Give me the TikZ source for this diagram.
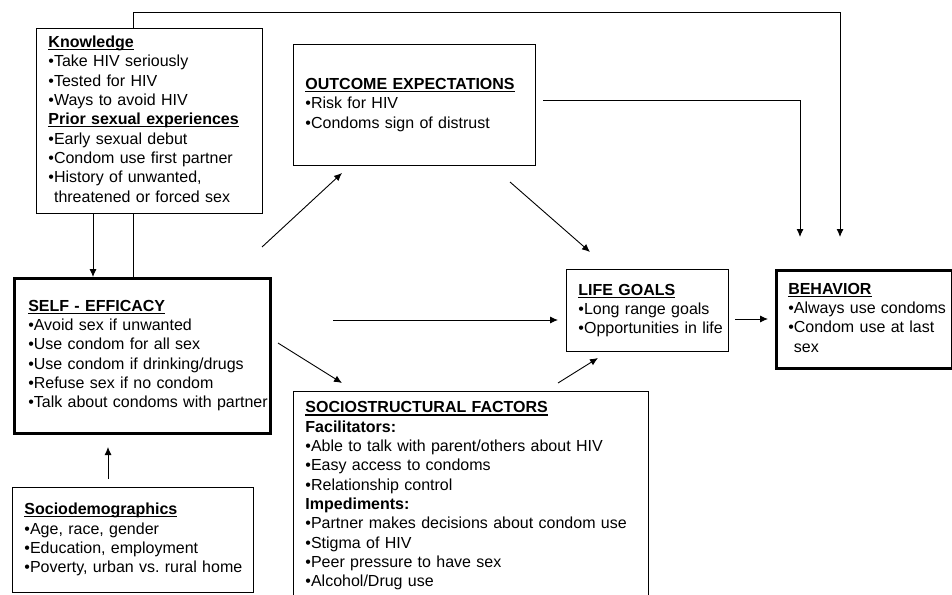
\documentclass[tikz,border=0pt]{standalone}
\usepackage{fontspec}
\setmainfont{Liberation Sans}
\usetikzlibrary{arrows.meta,backgrounds}
\frenchspacing
\newcommand{\hdr}[1]{\textbf{\setbox0\hbox{#1}\rlap{\rule[-2.6pt]{\wd0}{1.1pt}}\box0}}
\newcommand{\boxlines}[1]{\begin{tabular}{@{}l@{}}#1\end{tabular}}

\begin{document}
\begin{tikzpicture}[x=1pt, y=-1pt, >={Latex[length=8pt,width=7pt]},
  B/.style={draw, fill=white, line width=0.9pt, anchor=north west, align=left,
            inner xsep=12pt, inner ysep=0pt, font=\fontsize{16}{19.3}\selectfont},
  BB/.style={B, line width=2.5pt, inner xsep=14pt},
  ln/.style={line width=0.9pt}]
\useasboundingbox (0,0) rectangle (952,594);
\node[B, text width=202pt, minimum height=185pt] (kn) at (36,28)
  {\boxlines{\hdr{Knowledge}\\•Take HIV seriously\\•Tested for HIV\\•Ways to avoid HIV\\
   \hdr{Prior sexual experiences}\\•Early sexual debut\\•Condom use first partner\\
   •History of unwanted,\\\phantom{•}threatened or forced sex}};
\node[BB, text width=228pt, minimum height=155pt] (se) at (13,277)
  {\boxlines{\hdr{SELF - EFFICACY}\\•Avoid sex if unwanted\\•Use condom for all sex\\
   •Use condom if drinking/drugs\\•Refuse sex if no condom\\•Talk about condoms with partner}};
\node[B, text width=218pt, minimum height=121pt] (oe) at (293,44)
  {\boxlines{\hdr{OUTCOME EXPECTATIONS}\\•Risk for HIV\\•Condoms sign of distrust}};
\node[B, text width=138pt, minimum height=82pt] (lg) at (566,269)
  {\boxlines{\hdr{LIFE GOALS}\\•Long range goals\\•Opportunities in life}};
\node[BB, inner xsep=12pt, text width=152pt, minimum height=98pt] (bh) at (775,269)
  {\boxlines{\hdr{BEHAVIOR}\\•Always use condoms\\•Condom use at last\\\phantom{•}sex}};
\node[B, text width=331pt, minimum height=209pt] (ss) at (293,391)
  {\boxlines{\hdr{SOCIOSTRUCTURAL FACTORS}\\\textbf{Facilitators:}\\
   •Able to talk with parent/others about HIV\\•Easy access to condoms\\•Relationship control\\
   \textbf{Impediments:}\\•Partner makes decisions about condom use\\•Stigma of HIV\\
   •Peer pressure to have sex\\•Alcohol/Drug use}};
\node[B, text width=217pt, minimum height=105pt] (sd) at (12,487)
  {\boxlines{\hdr{Sociodemographics}\\•Age, race, gender\\•Education, employment\\•Poverty, urban vs. rural home}};

\coordinate (tl) at (133,12);
\coordinate (kx) at (93,0);
\coordinate (b1) at (800,237);
\coordinate (b2) at (840,237);
\coordinate (o1) at (543,100);
\coordinate (s1) at (262,247);
\coordinate (e1) at (342,173);
\coordinate (s2) at (510,182);
\coordinate (e2) at (590,252);
\coordinate (s3) at (333,320);
\coordinate (e3) at (558,320);
\coordinate (s4) at (278,343);
\coordinate (e4) at (342,383);
\coordinate (s5) at (558,383);
\coordinate (e5) at (598,358);
\coordinate (s6) at (735,319);
\coordinate (e6) at (768,319);
\coordinate (s7) at (108,479);
\coordinate (e7) at (108,447);

\begin{scope}[on background layer]
\draw[ln, ->] (tl |- se.north) -- (tl) -| (b2);
\end{scope}
\draw[ln, ->] (kn.south -| kx) -- (se.north -| kx);
\draw[ln, ->] (o1) -| (b1);
\draw[ln, ->] (s1) -- (e1);
\draw[ln, ->] (s2) -- (e2);
\draw[ln, ->] (s3) -- (e3);
\draw[ln, ->] (s4) -- (e4);
\draw[ln, ->] (s5) -- (e5);
\draw[ln, ->] (s6) -- (e6);
\draw[ln, ->] (s7) -- (e7);
\end{tikzpicture}
\end{document}
